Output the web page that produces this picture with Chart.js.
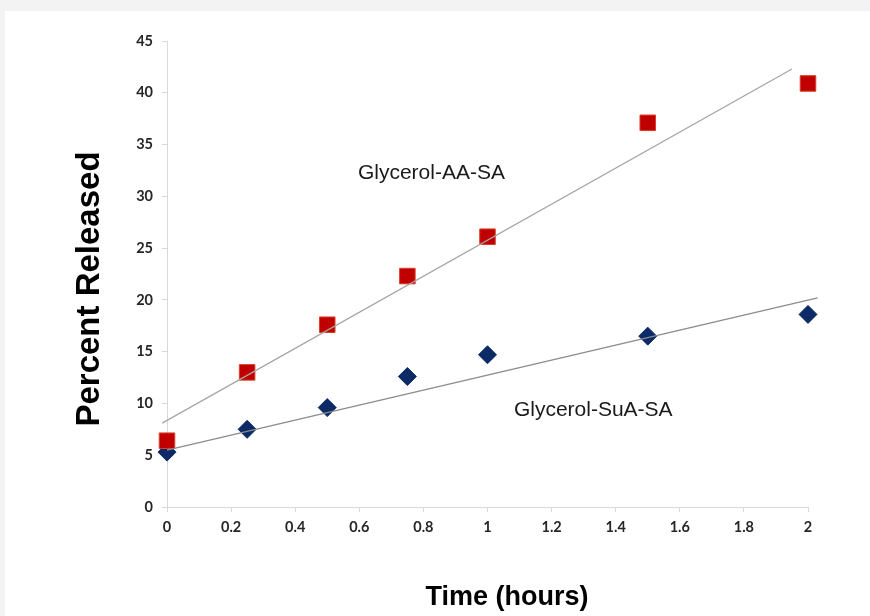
<!DOCTYPE html>
<html>
<head>
<meta charset="utf-8">
<script src="https://cdn.jsdelivr.net/npm/chart.js@4/dist/chart.umd.min.js"></script>
<style>
  html, body { margin: 0; padding: 0; background: #f3f3f3; }
  #panel { position: absolute; left: 5px; top: 11px; width: 865px; height: 605px; background: #fff; }
  #wrap { position: absolute; left: 0; top: 0; width: 870px; height: 616px; }
</style>
</head>
<body>
<div id="panel"></div>
<div id="wrap"><canvas id="releaseChart" width="870" height="616"></canvas></div>
<script>
// Release of payload over time, two polymer blends
const timeHours = [0, 0.25, 0.5, 0.75, 1, 1.5, 2];
const aaSaRelease = [6.4, 13.0, 17.6, 22.3, 26.1, 37.1, 40.9];
const suaSaRelease = [5.3, 7.5, 9.6, 12.6, 14.7, 16.5, 18.6];

// trendline endpoints as drawn in the figure
const aaTrendX = [-0.015, 1.95];
const aaTrendY = [8.1, 42.3];
const suaTrendX = [0, 2.03];
const suaTrendY = [5.5, 20.2];

const seriesLabels = [
  { text: 'Glycerol-AA-SA', x: 0.825, y: 32.2 },
  { text: 'Glycerol-SuA-SA', x: 1.33, y: 9.3 }
];

const yTicks = { min: 0, max: 45, step: 5 };
const xTicks = { min: 0, max: 2, step: 0.2 };

const toPts = (xs, ys) => xs.map((x, i) => ({ x, y: ys[i] }));

const tickFont = { family: 'Lato, "Open Sans", sans-serif', size: 14.5, weight: 'bold' };

// axis titles and in-plot series labels
const textPlugin = {
  id: 'textPlugin',
  afterDraw(chart) {
    const { ctx, scales } = chart;
    ctx.save();
    ctx.fillStyle = '#1a1a1a';
    ctx.textAlign = 'center';
    ctx.textBaseline = 'middle';
    ctx.font = '21px "Liberation Sans", Arial, sans-serif';
    seriesLabels.forEach(l => {
      ctx.fillText(l.text, scales.x.getPixelForValue(l.x), scales.y.getPixelForValue(l.y));
    });
    ctx.fillStyle = '#000';
    ctx.font = 'bold 27px "Liberation Sans", Arial, sans-serif';
    ctx.fillText('Time (hours)', 507, 598);
    ctx.translate(90, 289);
    ctx.rotate(-Math.PI / 2);
    ctx.font = 'bold 33px "Liberation Sans", Arial, sans-serif';
    ctx.fillText('Percent Released', 0, 0);
    ctx.restore();
  }
};

new Chart(document.getElementById('releaseChart'), {
  type: 'scatter',
  data: {
    datasets: [
      { label: 'AA trend', data: toPts(aaTrendX, aaTrendY), showLine: true, borderColor: '#a6a6a6', borderWidth: 1.3, pointRadius: 0, clip: false },
      { label: 'SuA trend', data: toPts(suaTrendX, suaTrendY), showLine: true, borderColor: '#8c8c8c', borderWidth: 1.3, pointRadius: 0, clip: false },
      { label: 'Glycerol-AA-SA', data: toPts(timeHours, aaSaRelease), pointStyle: 'rect', pointRadius: 11, backgroundColor: '#c00000', borderColor: '#d8402a', borderWidth: 1, clip: false },
      { label: 'Glycerol-SuA-SA', data: toPts(timeHours, suaSaRelease), pointStyle: 'rectRot', pointRadius: 9, backgroundColor: '#0b2a66', borderColor: '#0b2a66', borderWidth: 1, clip: false }
    ]
  },
  options: {
    responsive: false,
    animation: false,
    layout: { padding: { left: 0, top: 41, right: 62, bottom: 0 } },
    plugins: { legend: { display: false }, tooltip: { enabled: false } },
    scales: {
      x: {
        type: 'linear', min: xTicks.min, max: xTicks.max,
        ticks: { stepSize: xTicks.step, color: '#262626', font: tickFont, padding: 7,
          callback: v => String(Math.round(v * 10) / 10) },
        grid: { drawOnChartArea: false, drawTicks: true, tickLength: 5, tickColor: '#d9d9d9' },
        border: { color: '#d9d9d9', width: 1 },
        afterFit(s) { s.height = 109; }
      },
      y: {
        min: yTicks.min, max: yTicks.max,
        ticks: { stepSize: yTicks.step, color: '#262626', font: tickFont, padding: 9 },
        grid: { drawOnChartArea: false, drawTicks: true, tickLength: 5, tickColor: '#d9d9d9' },
        border: { color: '#d9d9d9', width: 1 },
        afterFit(s) { s.width = 167; }
      }
    }
  },
  plugins: [textPlugin]
});
</script>
</body>
</html>
